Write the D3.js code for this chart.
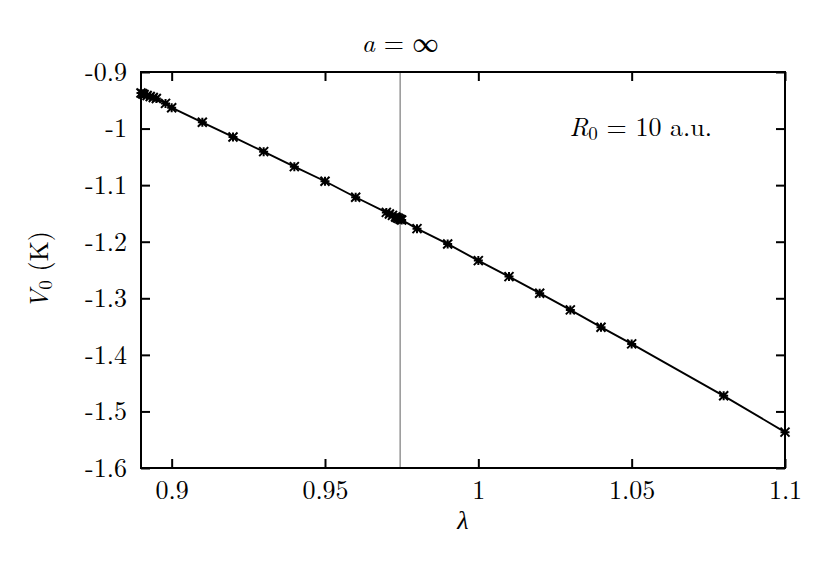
<!DOCTYPE html>
<html>
<head>
<meta charset="utf-8">
<script src="https://cdn.jsdelivr.net/npm/d3@7"></script>
<style>
body { margin: 0; background: #fff; }
svg text { font-family: "Latin Modern Roman", "CMU Serif", "Liberation Serif", serif; fill: #000; }
</style>
</head>
<body>
<svg id="chart" width="830" height="570"></svg>
<script>
// lambda values and V0 (K)
var lambdas = [0.89, 0.8905, 0.891, 0.892, 0.893, 0.894, 0.895, 0.898, 0.9,
               0.91, 0.92, 0.93, 0.94, 0.95, 0.96,
               0.97, 0.971, 0.972, 0.973, 0.9735, 0.974, 0.9745, 0.975,
               0.98, 0.99, 1.0, 1.01, 1.02, 1.03, 1.04, 1.05, 1.08, 1.1];
var v0 = [-0.9371, -0.9385, -0.9398, -0.9415, -0.9433, -0.9451, -0.9468, -0.9555, -0.9631,
          -0.9889, -1.0148, -1.0408, -1.0673, -1.0931, -1.1214,
          -1.1482, -1.1509, -1.1535, -1.1562, -1.1576, -1.1588, -1.1602, -1.1615,
          -1.1769, -1.2039, -1.2334, -1.2617, -1.2910, -1.3205, -1.3511, -1.3806, -1.4724, -1.5366];
var xTicks = [0.9, 0.95, 1, 1.05, 1.1];
var xTickLabels = ["0.9", "0.95", "1", "1.05", "1.1"];
var yTicks = [-0.9, -1, -1.1, -1.2, -1.3, -1.4, -1.5, -1.6];
var yTickLabels = ["-0.9", "-1", "-1.1", "-1.2", "-1.3", "-1.4", "-1.5", "-1.6"];
var lambdaCrit = 0.9745;

var margin = {left: 141, right: 45, top: 72, bottom: 102};
var W = 830, H = 570;
var svg = d3.select('#chart');

var x = d3.scaleLinear().domain([0.89, 1.1]).range([margin.left, W - margin.right]);
var y = d3.scaleLinear().domain([-1.6, -0.9]).range([H - margin.bottom, margin.top]);

var pts = lambdas.map(function (l, i) { return {l: l, v: v0[i]}; });

//vertical marker line
svg.append('line')
    .attr('x1', x(lambdaCrit)).attr('x2', x(lambdaCrit))
    .attr('y1', y(-0.9)).attr('y2', y(-1.6))
    .attr('stroke', '#7a7a7a').attr('stroke-width', 1.2);

//curve
svg.append('path')
    .datum(pts)
    .attr('fill', 'none')
    .attr('stroke', '#000')
    .attr('stroke-width', 1.9)
    .attr('d', d3.line().x(function (d) { return x(d.l); }).y(function (d) { return y(d.v); }));

//asterisk points
var s = 4.5;
svg.append('g').selectAll('path')
    .data(pts).enter().append('path')
    .attr('transform', function (d) { return 'translate(' + x(d.l) + ',' + y(d.v) + ')'; })
    .attr('d', 'M' + (-s) + ',0H' + s + 'M0,' + (-s) + 'V' + s +
               'M' + (-s) + ',' + (-s) + 'L' + s + ',' + s + 'M' + (-s) + ',' + s + 'L' + s + ',' + (-s))
    .attr('stroke', '#000').attr('stroke-width', 2).attr('fill', 'none');

//axes with inward ticks, mirrored
function styleAxis(g) {
    g.select('.domain').remove();
    g.attr('font-family', null);
    g.selectAll('.tick line').attr('stroke', '#000').attr('stroke-width', 2);
}
svg.append('g').attr('transform', 'translate(0,' + y(-1.6) + ')')
    .call(d3.axisBottom(x).tickValues(xTicks).tickSize(-9).tickPadding(13)
        .tickFormat(function (d, i) { return xTickLabels[i]; }))
    .call(styleAxis)
    .selectAll('text').attr('font-size', 26).attr('dy', '0.71em');
svg.append('g').attr('transform', 'translate(0,' + y(-0.9) + ')')
    .call(d3.axisTop(x).tickValues(xTicks).tickSize(-9).tickFormat(''))
    .call(styleAxis);
svg.append('g').attr('transform', 'translate(' + x(0.89) + ',0)')
    .call(d3.axisLeft(y).tickValues(yTicks).tickSize(-9).tickPadding(14)
        .tickFormat(function (d, i) { return yTickLabels[i]; }))
    .call(styleAxis)
    .selectAll('text').attr('font-size', 26).attr('dy', '0.32em');
svg.append('g').attr('transform', 'translate(' + x(1.1) + ',0)')
    .call(d3.axisRight(y).tickValues(yTicks).tickSize(-9).tickFormat(''))
    .call(styleAxis);

//frame
svg.append('rect')
    .attr('x', x(0.89)).attr('y', y(-0.9))
    .attr('width', x(1.1) - x(0.89)).attr('height', y(-1.6) - y(-0.9))
    .attr('fill', 'none').attr('stroke', '#000').attr('stroke-width', 2);

//labels
svg.append('text').attr('x', (x(0.89) + x(1.1)) / 2).attr('y', 529)
    .attr('text-anchor', 'middle').attr('font-size', 26).attr('font-style', 'italic').text('λ');

var yl = svg.append('text').attr('transform', 'translate(48,' + ((y(-0.9) + y(-1.6)) / 2) + ') rotate(-90)')
    .attr('text-anchor', 'middle').attr('font-size', 26);
yl.append('tspan').attr('font-style', 'italic').text('V');
yl.append('tspan').attr('font-size', 19).attr('dy', 4).text('0');
yl.append('tspan').attr('dy', -4).text(' (K)');

var t = svg.append('text').attr('x', x(lambdaCrit)).attr('y', 52)
    .attr('text-anchor', 'middle').attr('font-size', 26);
t.append('tspan').attr('font-style', 'italic').text('a');
t.append('tspan').text(' = ∞');

var r = svg.append('text').attr('x', 712).attr('y', 136)
    .attr('text-anchor', 'end').attr('font-size', 26);
r.append('tspan').attr('font-style', 'italic').text('R');
r.append('tspan').attr('font-size', 19).attr('dy', 4).text('0');
r.append('tspan').attr('dy', -4).text(' = 10 a.u.');
</script>
</body>
</html>
